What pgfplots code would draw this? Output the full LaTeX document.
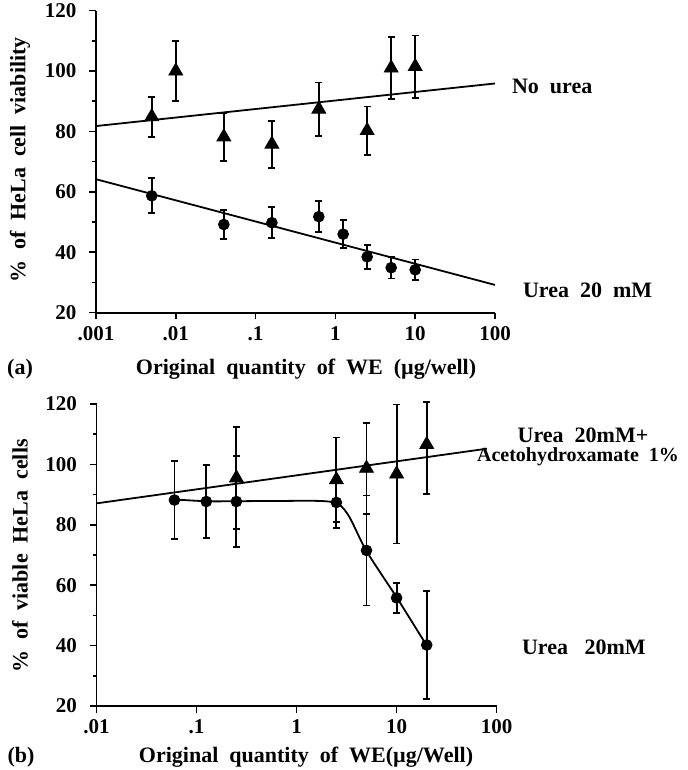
\documentclass[border=0pt]{standalone}
\usepackage{fontspec}
\setmainfont{Liberation Serif}
\usepackage{pgfplots}
\pgfplotsset{compat=1.18}
\pgfplotsset{
  every axis/.append style={
    scale only axis, axis lines=left,
    axis line style={-, line width=0.9pt},
    tick align=outside, tick style={line width=0.8pt, black},
    major tick length=3.3pt, minor tick length=2pt,
    ymin=20, ymax=120, ytick={20,40,60,80,100,120}, minor y tick num=1,
    yticklabels={20,40,60,80,100,120},
    tick label style={font=\bfseries\fontsize{10.5}{12}\selectfont},
    yticklabel style={xshift=-3pt},
    clip=false,
  },
}
\begin{document}
\begin{tikzpicture}[font=\bfseries\fontsize{11}{13}\selectfont]
\useasboundingbox (0,0) rectangle (343.5pt,385pt);
% ---------- panel (a)
\begin{axis}[xmode=log, xminorticks=false, at={(48pt,228.65pt)}, anchor=south west,
  width=199.5pt, height=151pt,
  xmin=0.001, xmax=100,
  xtick={0.001,0.01,0.1,1,10,100},
  xticklabels={.001,.01,.1,1,10,100},
  xticklabel style={yshift=0pt}]
\addplot[black, line width=0.9pt] coordinates {(0.001,81.8) (100,95.9)};
\addplot[black, line width=0.9pt] coordinates {(0.001,64.2) (100,29.2)};
\addplot[only marks, mark=triangle*, mark size=4pt, black,
  error bars/.cd, y dir=both, y explicit,
  error bar style={line width=0.9pt, black},
  error mark options={rotate=90, line width=0.9pt, mark size=1.8pt, black}] coordinates {
 (0.005,84.9) +- (0,6.6)
 (0.01,100.0) +- (0,10)
 (0.04,78.2) +- (0,8)
 (0.16,75.8) +- (0,7.8)
 (0.62,87.4) +- (0,8.8)
 (2.5,80.3) +- (0,8)
 (5,101.0) +- (0,10.2)
 (10,101.5) +- (0,10.3)
};
\addplot[only marks, mark=*, mark size=2.7pt, black,
  error bars/.cd, y dir=both, y explicit,
  error bar style={line width=0.9pt, black},
  error mark options={rotate=90, line width=0.9pt, mark size=1.8pt, black}] coordinates {
 (0.005,58.7) +- (0,5.8)
 (0.04,49.2) +- (0,4.9)
 (0.16,49.8) +- (0,5.1)
 (0.62,51.8) +- (0,5.2)
 (1.25,46.0) +- (0,4.7)
 (2.5,38.5) +- (0,4)
 (5,34.9) +- (0,3.6)
 (10,34.2) +- (0,3.4)
};
\end{axis}
% ---------- panel (b)
\begin{axis}[xmode=log, xminorticks=false, at={(48.3pt,32pt)}, anchor=south west,
  width=200pt, height=151pt,
  xmin=0.01, xmax=100,
  xtick={0.01,0.1,1,10,100},
  xticklabels={.01,.1,1,10,100},
  xticklabel style={yshift=0pt}]
\addplot[black, line width=0.9pt] coordinates {(0.01,87.1) (80,105.2)};
\addplot[black, line width=0.9pt, smooth, tension=0.5] coordinates {
 (0.06,88.4) (0.125,87.8) (0.25,87.8) (0.66,87.9) (2.2,87.6) (3.2,83.8) (5,71.3) (10,56) (20,40)};
\addplot[only marks, mark=triangle*, mark size=4pt, black,
  error bars/.cd, y dir=both, y explicit,
  error bar style={line width=0.9pt, black},
  error mark options={rotate=90, line width=0.9pt, mark size=1.8pt, black}] coordinates {
 (0.25,95.5) +- (0,16.8)
 (2.5,94.9) +- (0,14)
 (5,98.7) +- (0,15)
 (10,96.8) +- (0,23)
 (20,106.6) += (0,14) -= (0,16.5)
};
\addplot[only marks, mark=*, mark size=2.7pt, black,
  error bars/.cd, y dir=both, y explicit,
  error bar style={line width=0.9pt, black},
  error mark options={rotate=90, line width=0.9pt, mark size=1.8pt, black}] coordinates {
 (0.06,88.2) +- (0,13)
 (0.125,87.7) +- (0,12)
 (0.25,87.7) +- (0,15)
 (2.5,87.4) +- (0,8.5)
 (5,71.5) +- (0,18.2)
 (10,55.8) +- (0,5)
 (20,40.2) +- (0,18)
};
\end{axis}
% ---------- texts
\node[anchor=west] at (252.5pt,341.7pt) {No\ \ urea};
\node[anchor=west] at (258pt,240pt) {Urea\ \ 20\ \ mM};
\node at (153pt,200.5pt) {Original\ \ quantity\ \ of\ \ WE\ \ (µg/well)};
\node at (10pt,200.5pt) {(a)};
\node[rotate=90] at (10pt,305pt) {\%\ \ of\ \ HeLa\ \ cell\ \ viability};
\node at (291.5pt,167.5pt) {Urea\ \ 20mM+};
\node[anchor=east, font=\bfseries\fontsize{10}{12}\selectfont] at (343pt,156.5pt) {Acetohydroxamate\ \ 1\%};
\node[anchor=west] at (257.5pt,61.5pt) {Urea\ \ \ 20mM};
\node at (153pt,6.5pt) {Original\ \ quantity\ \ of\ \ WE(µg/Well)};
\node at (10.5pt,6.5pt) {(b)};
\node[rotate=90] at (10pt,107pt) {\%\ \ of\ \ viable\ \ HeLa\ \ cells};
\end{tikzpicture}
\end{document}
